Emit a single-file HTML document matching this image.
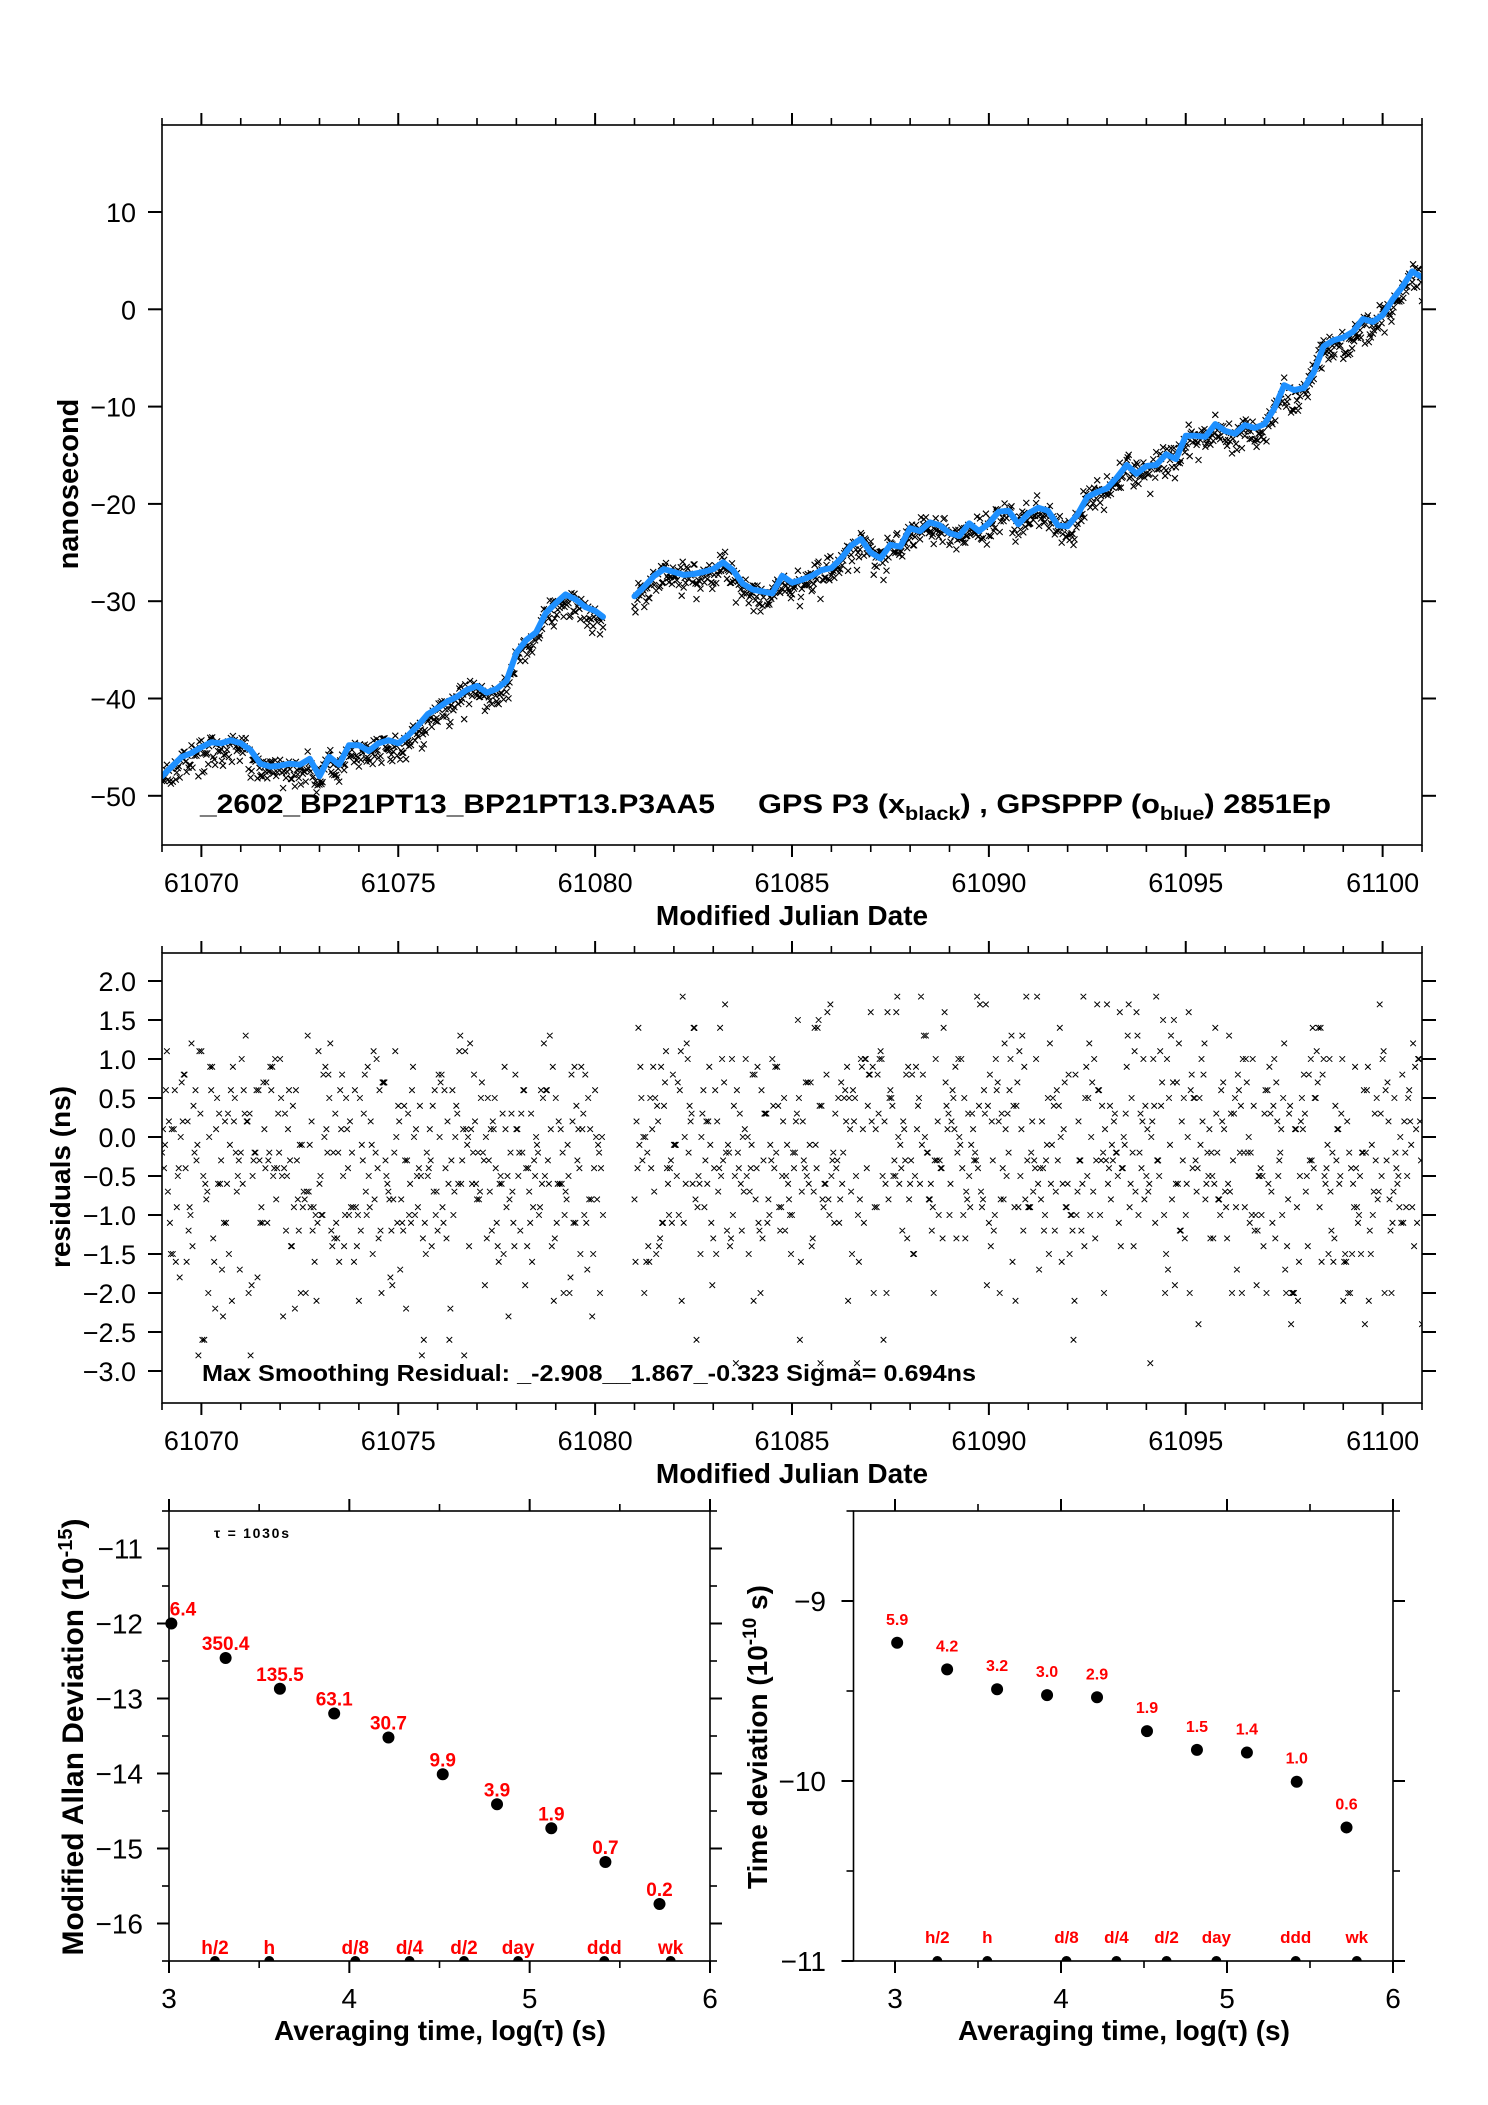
<!DOCTYPE html>
<html><head><meta charset="utf-8"><style>
html,body{margin:0;padding:0;background:#fff;}
svg{display:block;font-family:"Liberation Sans",Arial,sans-serif;}
</style></head><body>
<svg id="fig" width="1488" height="2105" viewBox="0 0 1488 2105" xmlns="http://www.w3.org/2000/svg">
<defs>
<clipPath id="clipTop"><rect x="162" y="125" width="1260" height="720"/></clipPath>
<clipPath id="clipMid"><rect x="162" y="953" width="1260" height="450"/></clipPath>
<clipPath id="clipBL"><rect x="169" y="1511" width="541" height="450"/></clipPath>
<clipPath id="clipBR"><rect x="853.5" y="1511" width="539.5" height="450"/></clipPath>
</defs>
<g id="topPanel"></g>
<g id="midPanel"></g>
<g id="blPanel"></g>
<g id="brPanel"></g>
<text x="200" y="813" font-size="27" font-weight="bold" textLength="515" lengthAdjust="spacingAndGlyphs">_2602_BP21PT13_BP21PT13.P3AA5</text>
<text x="758" y="813" font-size="27" font-weight="bold" textLength="573" lengthAdjust="spacingAndGlyphs">GPS P3 (x<tspan font-size="19" dy="7">black</tspan><tspan dy="-7">) ,  GPSPPP (o</tspan><tspan font-size="19" dy="7">blue</tspan><tspan dy="-7">)  2851Ep</tspan></text>
<text x="792" y="925" font-size="28" font-weight="bold" text-anchor="middle">Modified Julian Date</text>
<text transform="translate(78,484) rotate(-90)" font-size="29" font-weight="bold" text-anchor="middle">nanosecond</text>
<text x="202" y="1381" font-size="23" font-weight="bold" textLength="774" lengthAdjust="spacingAndGlyphs">Max Smoothing Residual: _-2.908__1.867_-0.323  Sigma= 0.694ns</text>
<text x="792" y="1483" font-size="28" font-weight="bold" text-anchor="middle">Modified Julian Date</text>
<text transform="translate(70,1177) rotate(-90)" font-size="28" font-weight="bold" text-anchor="middle">residuals (ns)</text>
<text x="214" y="1538" font-size="14" font-weight="bold" textLength="75">τ = 1030s</text>
<text x="440" y="2040" font-size="28" font-weight="bold" text-anchor="middle">Averaging time, log(τ) (s)</text>
<text transform="translate(83,1737) rotate(-90)" font-size="30" font-weight="bold" text-anchor="middle" textLength="437" lengthAdjust="spacingAndGlyphs">Modified Allan Deviation (10<tspan font-size="20" dy="-11">-15</tspan><tspan dy="11">)</tspan></text>
<text x="1124" y="2040" font-size="28" font-weight="bold" text-anchor="middle">Averaging time, log(τ) (s)</text>
<text transform="translate(767,1737) rotate(-90)" font-size="28" font-weight="bold" text-anchor="middle">Time deviation (10<tspan font-size="19" dy="-11">-10</tspan><tspan dy="11"> s)</tspan></text>
</svg>
<script>
// ---------- data ----------
const smoothSeg1Start = 61069.0;
const smoothSeg1 = [-48.0,-47.0,-46.0,-45.6,-45.0,-44.5,-44.6,-44.3,-44.6,-45.3,-46.7,-47.0,-46.9,-46.7,-46.8,-46.2,-48.0,-46.0,-46.8,-44.8,-44.8,-45.4,-44.6,-44.3,-44.6,-43.8,-42.8,-41.6,-41.0,-40.3,-39.8,-39.1,-38.7,-39.4,-39.0,-38.2,-35.3,-34.0,-33.2,-31.2,-30.2,-29.3,-29.8,-30.6,-31.0,-31.6];
const smoothSeg2Start = 61081.0;
const smoothSeg2 = [-29.5,-28.5,-27.4,-26.7,-27.0,-27.3,-27.2,-27.0,-26.7,-26.0,-26.8,-28.2,-28.8,-29.0,-29.2,-27.4,-28.1,-27.8,-27.4,-26.8,-26.6,-25.6,-24.3,-23.6,-25.0,-25.6,-24.2,-24.4,-22.5,-22.8,-21.9,-22.2,-23.0,-23.3,-22.0,-22.8,-22.0,-20.8,-20.7,-22.1,-21.0,-20.4,-20.7,-22.2,-22.3,-21.1,-19.3,-18.8,-18.4,-17.3,-16.0,-16.9,-16.1,-16.0,-14.9,-15.4,-13.0,-13.0,-13.1,-11.8,-12.5,-12.8,-11.9,-12.2,-11.8,-10.2,-7.8,-8.3,-8.1,-6.5,-3.8,-3.2,-2.9,-2.3,-1.0,-1.3,-0.6,1.0,2.3,3.9,3.3];
const smoothStep = 0.25;
const residStep = 0.1;
const resid1Start = 61069.0;
const resid1 = [-0.2,0.6,-1.1,0.1,-0.5,0.7,-0.4,-0.9,0.4,-0.1,
1.1,-0.6,0.0,-1.3,0.5,-0.3,0.2,-1.5,0.9,-0.7,
-0.2,0.3,-2.0,-0.5,0.6,-1.1,0.1,-0.3,0.9,-0.8,
1.0,-0.4,0.1,-1.4,0.6,-0.1,-0.7,1.3,0.2,-1.0,
-0.6,0.8,-0.2,-1.2,0.3,-1.6,-0.5,0.1,-0.9,0.6,
-2.1,-0.3,-1.0,0.2,-0.8,-1.3,0.7,-0.5,-1.8,-0.2,
0.4,-1.1,-2.2,-0.6,0.0,-0.9,-2.8,-1.5,0.1,-0.7,
-1.2,0.8,-0.4,-2.6,-1.0,0.3,-0.6,1.1,-1.4,-0.2,
-0.8,0.5,-1.9,-0.3,0.2,-1.1,-0.5,0.9,-2.3,-0.7,
0.1,-1.2,0.6,-0.4,-1.6,0.0,-0.9,1.2,-0.3,-1.4,
0.5,-0.6,-2.0,-0.1,0.8,-1.1,-0.4,0.3,-1.7,-0.8,
0.6,-0.2,-1.0];
const resid2Start = 61081.0;
const resid2 = [-0.8,1.4,-0.3,-1.6,0.5,-0.7,0.2,-1.1,1.1,-0.4,
-0.1,0.7,-2.1,-0.6,0.4,1.4,-0.9,0.0,-0.3,0.9,
-1.3,0.2,-0.5,1.7,-0.2,-1.0,0.6,-0.6,0.1,-1.5,
0.8,-0.4,-2.0,0.3,-0.8,1.0,-0.2,-1.2,0.5,-0.6,
-1.0,0.2,-2.6,-0.3,0.7,-1.4,-0.1,0.4,-0.9,1.6,
-0.5,0.3,-1.1,-0.2,0.9,-0.7,0.5,-1.6,0.1,-0.4,
1.6,-0.9,0.3,-0.5,-2.0,0.6,-0.3,0.0,-1.2,0.8,
-0.6,-1.5,0.4,-0.1,1.3,-0.8,-2.0,0.2,-0.4,0.7,
-1.0,0.5,-0.2,1.0,-1.3,-0.5,0.1,1.8,-0.7,0.3,
-1.1,-0.3,0.6,-0.8,1.2,-0.2,-1.6,0.4,-0.5,0.9,
-0.9,0.2,1.0,-0.4,-1.2,0.5,-0.1,-0.7,1.4,0.1,
-0.6,-1.0,0.8,-0.3,1.8,-0.5,0.0,-1.3,0.6,-0.2,
1.7,-0.8,0.3,-1.1,-0.4,0.9,-0.6,1.1,-1.0,0.2,
-0.5,-2.9,0.4,-0.3,0.7,-1.5,-0.1,1.5,-0.6,0.2,
-1.0,-2.0,0.5,-0.4,1.0,-0.8,0.1,-1.3,-0.2,0.6,
-0.7,1.3,-0.3,-1.7,0.4,-0.9,0.0,1.0,-1.9,-0.4,
0.3,-0.6,-1.1,0.7,-0.2,1.2,-0.8,-2.0,0.1,-0.5,
0.8,-1.4,-0.3,0.5,-0.9,1.0,-0.1,-1.2,0.4,-0.6,
-2.1,0.2,-0.4,0.9,-1.0,-0.2,0.6,-1.5,0.3,-0.7,
1.0,-0.3,-1.2,0.5,-0.5,0.8,-0.9,0.2,-1.4,1.0,
-2.4];
const subEpochs = [0, 0.25, 0.5, 0.75];
const subStrides = [1, 7, 13, 29];
const mjdTicks = [61070,61075,61080,61085,61090,61095,61100];
const topYTicks = [10,0,-10,-20,-30,-40,-50];
const midYTicks = [2.0,1.5,1.0,0.5,0.0,-0.5,-1.0,-1.5,-2.0,-2.5,-3.0];
const mdevLogTau = [3.013,3.314,3.615,3.916,4.217,4.518,4.819,5.12,5.42,5.72];
const mdevValues = [-12.0,-12.46,-12.87,-13.2,-13.52,-14.01,-14.41,-14.73,-15.18,-15.74];
const mdevLabels = ["6.4","350.4","135.5","63.1","30.7","9.9","3.9","1.9","0.7","0.2"];
const tdevLogTau = [3.013,3.314,3.615,3.916,4.217,4.518,4.819,5.12,5.42,5.72];
const tdevValues = [-9.232,-9.38,-9.49,-9.523,-9.535,-9.723,-9.827,-9.842,-10.004,-10.258];
const tdevLabels = ["5.9","4.2","3.2","3.0","2.9","1.9","1.5","1.4","1.0","0.6"];
const markerNames = ["h/2","h","d/8","d/4","d/2","day","ddd","wk"];
const markerLogTau = [3.255,3.556,4.033,4.334,4.636,4.936,5.414,5.782];
const mdevYTicks = [-11,-12,-13,-14,-15,-16];
const tdevYTicks = [-9,-10,-11];
const logTicks = [3,4,5,6];

// ---------- helpers ----------
const NS='http://www.w3.org/2000/svg';
function mk(tag, attrs, parent){const e=document.createElementNS(NS,tag);for(const k in attrs)e.setAttribute(k,attrs[k]);parent.appendChild(e);return e;}
function line(p,x1,y1,x2,y2,w){return mk('line',{x1,y1,x2,y2,stroke:'#000','stroke-width':w||1.6},p);}
function txt(p,x,y,s,size,anchor,extra){const t=mk('text',{x,y,'font-size':size,'text-anchor':anchor||'middle'},p);if(extra)for(const k in extra)t.setAttribute(k,extra[k]);t.textContent=s;return t;}
function linear(d0,d1,r0,r1){return v=>r0+(v-d0)*(r1-r0)/(d1-d0);}

function frame(g,L,T,R,B){const r=mk('rect',{x:L,y:T,width:R-L,height:B-T,fill:'none',stroke:'#000','stroke-width':1.6},g);

}

function mjdAxis(g,X,T,B,labelY){
  for(let d=61069; d<=61101; d++){
    const major=(d%5===0); const len=major?12:7; const x=X(d);
    line(g,x,T,x,T-len,major?2:1.6); line(g,x,B,x,B+len,major?2:1.6);
  }
  mjdTicks.forEach(d=>{const t=txt(g,X(d),labelY,String(d),27);
    
    });
}
function crossPath(x,y,s){return `M${(x-s).toFixed(1)},${(y-s).toFixed(1)}L${(x+s).toFixed(1)},${(y+s).toFixed(1)}M${(x-s).toFixed(1)},${(y+s).toFixed(1)}L${(x+s).toFixed(1)},${(y-s).toFixed(1)}`;}

function interpSmooth(t){
  let arr,st;
  if(t<smoothSeg2Start){arr=smoothSeg1;st=smoothSeg1Start;} else {arr=smoothSeg2;st=smoothSeg2Start;}
  let i=(t-st)/smoothStep; let i0=Math.max(0,Math.min(arr.length-1,Math.floor(i)));
  let i1=Math.min(arr.length-1,i0+1); let f=Math.max(0,Math.min(1,i-i0));
  return arr[i0]*(1-f)+arr[i1]*f;
}
function eachResid(fn){
  [[resid1Start,resid1],[resid2Start,resid2]].forEach(([st,arr])=>{
    const n=arr.length;
    subEpochs.forEach((off,k)=>{
      const stride=subStrides[k];
      for(let i=0;i<n;i++){
        if(k>0 && i===n-1) continue;
        const r=arr[(i*stride+k*3)%n];
        fn(st+(i+off)*residStep, r);
      }
    });
  });
}

// ---------- top panel ----------
(function(){
  const g=document.getElementById('topPanel');
  const L=162,R=1422,T=125,B=845;
  const X=linear(61069,61101,L,R); const Y=linear(0,10,309.3,212.0);
  const data=mk('g',{'clip-path':'url(#clipTop)'},g);
  let d='';
  eachResid((t,r)=>{const v=interpSmooth(t)+r*0.9-0.3; d+=crossPath(X(t),Y(v),3);});
  const cp=mk('path',{d,stroke:'#000','stroke-width':1.1,fill:'none'},data);
  
  
  [[smoothSeg1Start,smoothSeg1],[smoothSeg2Start,smoothSeg2]].forEach(([st,arr],k)=>{
    const pts=arr.map((v,i)=>{const t=Math.min(st+i*smoothStep, k===0?61080.2:61101);return X(t).toFixed(1)+','+Y(v).toFixed(1);}).join(' ');
    const pl=mk('polyline',{points:pts,fill:'none',stroke:'#1e90ff','stroke-width':6,'stroke-linejoin':'round','stroke-linecap':'round'},data);
    
    
  });
  frame(g,L,T,R,B);
  mjdAxis(g,X,T,B,892);
  topYTicks.forEach(v=>{const y=Y(v); line(g,L,y,L-14,y,2); line(g,R,y,R+14,y,2);
    const t=txt(g,136,y+10,(v<0?'\u2212':'')+Math.abs(v),27,'end');
    
    });
})();

// ---------- middle panel ----------
(function(){
  const g=document.getElementById('midPanel');
  const L=162,R=1422,T=953,B=1403;
  const X=linear(61069,61101,L,R); const Y=linear(0,1,1137,1059);
  const data=mk('g',{'clip-path':'url(#clipMid)'},g);
  let d='';
  eachResid((t,r)=>{d+=crossPath(X(t),Y(r),2.8);});
  const cp=mk('path',{d,stroke:'#000','stroke-width':1,fill:'none'},data);
  
  
  frame(g,L,T,R,B);
  mjdAxis(g,X,T,B,1450);
  midYTicks.forEach(v=>{const y=Y(v); line(g,L,y,L-14,y,2); line(g,R,y,R+14,y,2);
    const t=txt(g,136,y+10,(v<0?'\u2212':'')+Math.abs(v).toFixed(1),27,'end');
    
    });
})();

// ---------- stability panels ----------
function stabPanel(id,clip,L,R,T,B,xmin,xmax,ymin,ymax,yTicks,lyVals,vals,labels,labelSize,labelOff,mSize,mBase,ylabX){
  const g=document.getElementById(id);
  const X=linear(xmin,xmax,L,R); const Y=linear(ymin,ymax,B,T);
  frame(g,L,T,R,B);
  logTicks.forEach(v=>{const x=X(v); line(g,x,T,x,T-12,2); line(g,x,B,x,B+12,2);
    const t=txt(g,x,2008,String(v),28);
    
    });
  [3.5,4.5,5.5].forEach(v=>{const x=X(v); line(g,x,T,x,T-7); line(g,x,B,x,B+7);});
  for(let v=Math.ceil(ymin*2)/2; v<=ymax+1e-9; v+=0.5){const y=Y(v); const maj=Math.abs(v-Math.round(v))<1e-6;
    const len=maj?12:7; line(g,L,y,L-len,y,maj?2:1.6); line(g,R,y,R+len,y,maj?2:1.6);}
  yTicks.forEach(v=>{const t=txt(g,ylabX,Y(v)+10,'\u2212'+Math.abs(v),28,'end');
    
    });
  lyVals.forEach((lt,i)=>{
    const cx=X(lt), cy=Y(vals[i]);
    const c=mk('circle',{cx,cy,r:6,fill:'#000'},g);
    
    
    const t=txt(g,Math.max(cx,L+14),cy-labelOff,labels[i],labelSize,'middle',{fill:'#ff0000','font-weight':'bold'});
    
    
  });
  const mg=mk('g',{'clip-path':'url(#'+clip+')'},g);
  markerLogTau.forEach((lt,i)=>{
    const c=mk('circle',{cx:X(lt),cy:B,r:5,fill:'#000'},mg);
    
    
    const t=txt(g,X(lt),mBase,markerNames[i],mSize,'middle',{fill:'#ff0000','font-weight':'bold'});
    
    
  });
}
stabPanel('blPanel','clipBL',169,710,1511,1961,3,6,-16.5,-10.5,mdevYTicks,mdevLogTau,mdevValues,mdevLabels,19,8,19,1954,143);
stabPanel('brPanel','clipBR',853.5,1393,1511,1961,2.75,6,-11,-8.5,tdevYTicks,tdevLogTau,tdevValues,tdevLabels,16,18,17,1943,826);
</script>
</body></html>
